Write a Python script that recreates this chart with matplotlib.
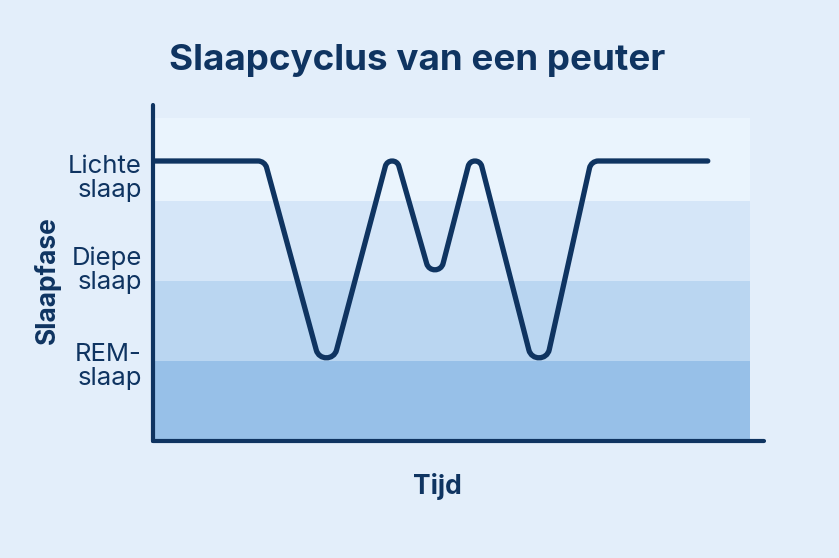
import matplotlib
matplotlib.use("Agg")
import matplotlib.pyplot as plt
from matplotlib.path import Path
from matplotlib.patches import PathPatch
import numpy as np

# ---- data ----
title = "Slaapcyclus van een peuter"
x_label = "Tijd"
y_label = "Slaapfase"
stage_labels = ["REM-\nslaap", "Diepe\nslaap", "Lichte\nslaap"]
stage_label_pos = [0.97, 2.17, 3.32]
band_edges = [0.0, 1.0, 2.0, 3.0, 4.04]
band_colors = ["#97c0e8", "#bad6f1", "#d5e6f8", "#eaf4fd"]
time = [0.0, 18.3, 28.4, 39.1, 46.2, 52.7, 63.3, 71.7, 90.8]
stage = [3.5, 3.5, 1.04, 3.5, 2.14, 3.5, 1.04, 3.5, 3.5]

navy = "#0f3461"
bg = "#e3eefa"

plt.rcParams['font.family'] = ['Inter', 'DejaVu Sans']

fig = plt.figure(figsize=(8.39, 5.58), dpi=100, facecolor=bg)
ax = fig.add_axes([153/839, 1-441/558, (764-153)/839, (441-105)/558])
ax.set_facecolor('none')
ax.set_xlim(0, 100)
ax.set_ylim(0, 4.2)

band_xmax = 97.7
for lo, hi, c in zip(band_edges[:-1], band_edges[1:], band_colors):
    ax.fill_between([0, band_xmax], lo, hi, color=c, lw=0, zorder=1)

# ---- line with rounded (filleted) corners, built in display space ----
fig.canvas.draw()
apex = ax.transData.transform(np.column_stack([time, stage]))
n = len(apex)


def unit(v):
    return v / np.hypot(*v)


# corner radius (pixels) by corner kind
radius = np.full(n, 9.0)
kind = ['end'] * n
for i in range(1, n - 1):
    yp, y, yn = apex[i-1, 1], apex[i, 1], apex[i+1, 1]
    if (yp - y) * (yn - y) > 0:
        if y > yp:
            kind[i] = 'peak'; radius[i] = 7.0
        else:
            kind[i] = 'dip'; radius[i] = 10.5 if stage[i] < 1.5 else 8.5
    else:
        kind[i] = 'corner'; radius[i] = 9.0

V = apex.copy()
for _ in range(10):
    for i in range(1, n - 1):
        if kind[i] in ('peak', 'dip'):
            e1 = unit(V[i-1] - V[i]); e2 = unit(V[i+1] - V[i])
            alpha = np.arccos(np.clip(e1 @ e2, -1, 1)) / 2
            d = radius[i] * (1 / np.sin(alpha) - 1)
            sgn = 1 if kind[i] == 'peak' else -1
            V[i] = [apex[i, 0], apex[i, 1] + sgn * d]

verts = [V[0]]
codes = [Path.MOVETO]
for i in range(1, n - 1):
    R = radius[i]
    e1 = unit(V[i-1] - V[i]); e2 = unit(V[i+1] - V[i])
    theta = np.arccos(np.clip(e1 @ e2, -1, 1))
    t = R / np.tan(theta / 2)
    phi = np.pi - theta
    k = 4 / 3 * np.tan(phi / 4) * R
    a = V[i] + e1 * t
    b = V[i] + e2 * t
    verts += [a, a - e1 * k, b - e2 * k, b]
    codes += [Path.LINETO, Path.CURVE4, Path.CURVE4, Path.CURVE4]
verts.append(V[-1]); codes.append(Path.LINETO)
verts = ax.transData.inverted().transform(np.array(verts))
patch = PathPatch(Path(verts, codes), fill=False, edgecolor=navy, lw=3.8,
                  capstyle='round', joinstyle='round', zorder=3)
ax.add_patch(patch)

for s in ['top', 'right']:
    ax.spines[s].set_visible(False)
for s in ['left', 'bottom']:
    ax.spines[s].set_color(navy)
    ax.spines[s].set_linewidth(3)
    ax.spines[s].set_capstyle('round')

ax.set_xticks([])
ax.set_yticks(stage_label_pos)
ax.set_yticklabels(stage_labels, fontsize=18.5, color=navy, linespacing=1.06, ha='right')
ax.tick_params(axis='y', length=0, pad=8)

ax.set_xlabel(x_label, fontsize=19, fontweight='bold', color=navy)
ax.xaxis.set_label_coords(0.466, -0.095)
ax.set_ylabel(y_label, fontsize=19, fontweight='bold', color=navy)
ax.yaxis.set_label_coords(-0.15, 0.48)

fig.text(0.497, 1-70/558, title, fontsize=26.5, fontweight='bold', color=navy,
         ha='center', va='baseline')

fig.savefig("out.png", dpi=100, facecolor=bg)
